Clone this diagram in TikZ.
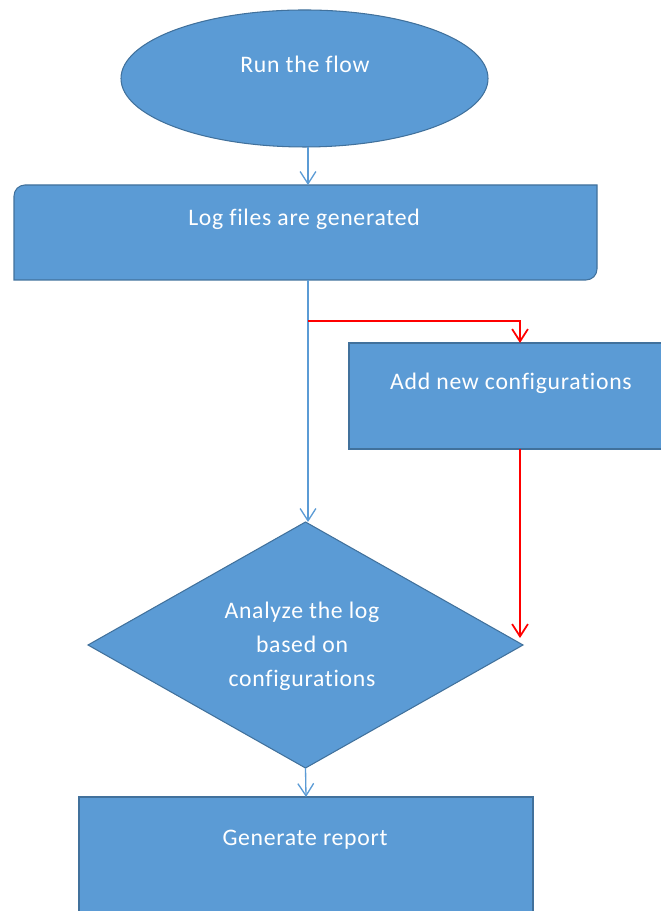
\documentclass[tikz,border=0pt]{standalone}
\usepackage{fontspec}
\setmainfont{Carlito}[Ligatures=NoCommon, LetterSpace=3]
\usetikzlibrary{shapes.geometric,arrows.meta,calc}

\definecolor{boxfill}{HTML}{5B9BD5}
\definecolor{boxedge}{HTML}{41719C}
\definecolor{flowblue}{HTML}{5B9BD5}
\definecolor{flowred}{HTML}{FF0000}

\tikzset{
  shapebox/.style={fill=boxfill, draw=boxedge, line width=0.6pt, inner sep=0pt, outer sep=0pt},
  label/.style={text=white, font=\fontsize{13.5}{19.3}\selectfont, inner sep=0pt, align=center},
  flow/.style={draw=flowblue, line width=0.75pt, -{Straight Barb[length=7pt,width=9pt]}},
  redflow/.style={draw=flowred, line width=1pt, -{Straight Barb[length=7pt,width=9pt]}},
}

\begin{document}
\begin{tikzpicture}[x=0.02cm, y=0.02cm]
  \useasboundingbox (0,0) rectangle (661,911);
  \clip (0,0) rectangle (661,911);

  % shapes
  \node[shapebox, ellipse, minimum width=367*0.02cm, minimum height=137*0.02cm] (ell) at (304.5,832.5) {};
  % rectangle with rounded top-left and bottom-right corners
  \node[inner sep=0pt, outer sep=0pt, minimum width=583*0.02cm, minimum height=95*0.02cm] (log) at (305.5,678.5) {};
  \fill[boxfill, draw=boxedge, line width=0.6pt]
    ($(log.north west)+(0,-11)$) arc[start angle=180, end angle=90, radius=11*0.02cm]
    -- (log.north east)
    -- ($(log.south east)+(0,11)$) arc[start angle=0, end angle=-90, radius=11*0.02cm]
    -- (log.south west) -- cycle;
  \node[shapebox, rectangle, minimum width=324*0.02cm, minimum height=106*0.02cm] (add) at (511,515) {};
  \node[shapebox, diamond, minimum width=435*0.02cm, minimum height=246*0.02cm, aspect=1.77] (dia) at (305.5,266) {};
  \node[shapebox, rectangle, minimum width=454*0.02cm, minimum height=134*0.02cm] (rep) at (306,47) {};

  % texts
  \node[label] (t1) at (305,847) {Run the flow};
  \node[label] (t2) at (304,692) {Log files are generated};
  \node[label] (t3) at (511,528) {Add new configurations};
  \node[label] (t4) at (302,265) {Analyze the log\\based on\\configurations};
  \node[label] (t5) at (305,71) {Generate report};

  % connectors
  \coordinate (ax) at (308,0);
  \coordinate (rx) at (520,0);
  \coordinate (branch) at (308,590);
  \coordinate (redend) at ($(dia.east)+(-3,7)$);

  \draw[flow] (ax |- ell.south) -- (ax |- log.north);
  \draw[flow] (ax |- log.south) -- (ax |- dia.north);
  \draw[flow] (dia.south) -- (rep.north);
  \draw[redflow] (branch) -- (rx |- branch) -- (rx |- add.north);
  \draw[redflow] (rx |- add.south) -- (rx |- redend);
\end{tikzpicture}
\end{document}
